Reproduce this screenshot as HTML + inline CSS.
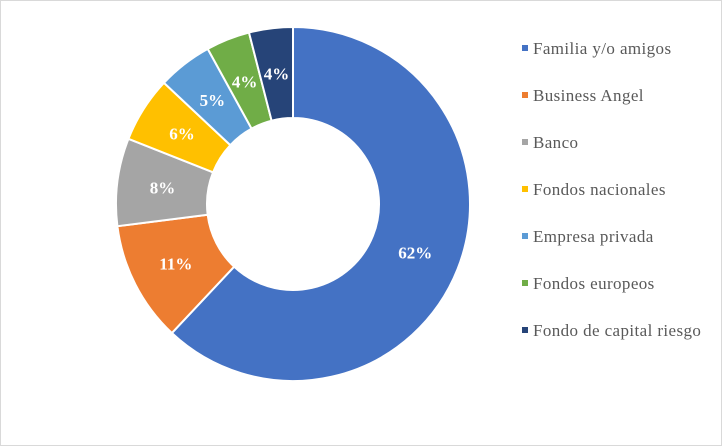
<!DOCTYPE html>
<html><head><meta charset="utf-8"><style>
html,body{margin:0;padding:0;background:#fff}
#wrap{position:relative;width:720px;height:444px;border:1px solid #d9d9d9;background:#fff}
svg{position:absolute;left:0;top:0}
svg text{font-family:"Liberation Serif","Times New Roman",serif}
</style></head><body>
<div id="wrap">
<svg id="chart" width="722" height="446"></svg>
</div>
<script>
const categories = ["Familia y/o amigos","Business Angel","Banco","Fondos nacionales","Empresa privada","Fondos europeos","Fondo de capital riesgo"];
const values = [62,11,8,6,5,4,4];
const labels = ["62%","11%","8%","6%","5%","4%","4%"];
const colors = ["#4472c4","#ed7d31","#a5a5a5","#ffc000","#5b9bd5","#70ad47","#264478"];
const NS="http://www.w3.org/2000/svg";
const svg=document.getElementById('chart');
const cx=292, cy=203, R=177, r=86;
const total=values.reduce((a,b)=>a+b,0);
function pt(rad,a){return [cx+rad*Math.sin(a), cy-rad*Math.cos(a)];}
let acc=0;
values.forEach((v,i)=>{
  const a0=acc/total*2*Math.PI; acc+=v; const a1=acc/total*2*Math.PI;
  const large=(a1-a0)>Math.PI?1:0;
  const [x0,y0]=pt(R,a0),[x1,y1]=pt(R,a1),[x2,y2]=pt(r,a1),[x3,y3]=pt(r,a0);
  const p=document.createElementNS(NS,'path');
  p.setAttribute('d',`M${x0},${y0} A${R},${R} 0 ${large} 1 ${x1},${y1} L${x2},${y2} A${r},${r} 0 ${large} 0 ${x3},${y3} Z`);
  p.setAttribute('fill',colors[i]);p.setAttribute('stroke','#fff');p.setAttribute('stroke-width','2');
  
  
  svg.appendChild(p);
  const am=(a0+a1)/2; const [lx,ly]=pt((R+r)/2,am);
  const t=document.createElementNS(NS,'text');
  t.setAttribute('x',lx);t.setAttribute('y',ly+6);t.setAttribute('text-anchor','middle');
  t.setAttribute('font-size','17');
  t.setAttribute('font-weight','bold');t.setAttribute('fill','#fff');
  t.textContent=labels[i];
  
  
  svg.appendChild(t);
});
categories.forEach((c,i)=>{
  const y=48+i*47;
  const m=document.createElementNS(NS,'rect');
  m.setAttribute('x',521);m.setAttribute('y',y-4);m.setAttribute('width',6);m.setAttribute('height',6);
  m.setAttribute('fill',colors[i]);
  
  
  svg.appendChild(m);
  const t=document.createElementNS(NS,'text');
  t.setAttribute('x',532);t.setAttribute('y',y+5);
  t.setAttribute('font-size','17');
  t.setAttribute('style','font-family:"Liberation Serif",serif;letter-spacing:0.4px');
  t.setAttribute('fill','#595959');
  t.textContent=c;
  
  
  svg.appendChild(t);
});
</script>
</body></html>
